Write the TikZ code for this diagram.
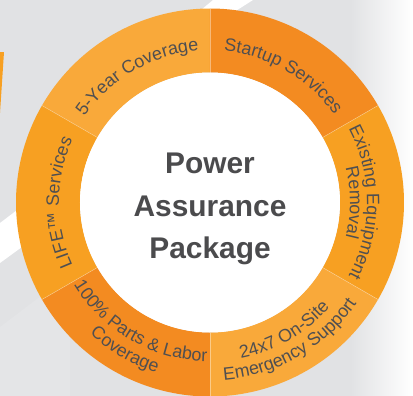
\documentclass[tikz,border=0pt]{standalone}
\usepackage{fontspec}
\setmainfont{Liberation Sans}
\usetikzlibrary{decorations.text}
\definecolor{bggray}{HTML}{E1E2E4}
\definecolor{bglight}{HTML}{E4E5E7}
\definecolor{orlight}{HTML}{F9A93A}
\definecolor{ordark}{HTML}{F38B21}
\definecolor{ormid}{HTML}{F7A022}
\definecolor{txtgray}{HTML}{4F4F51}
\definecolor{ctrgray}{HTML}{4B4B4D}
\newcommand\ringfont{\fontsize{18}{18}\selectfont\color{txtgray}}
\begin{document}
\begin{tikzpicture}[x=1bp,y=1bp,
        ringtext/.style={decorate,decoration={text along path,text align=center,text={|\ringfont|#1}}},
        ctr/.style={anchor=base,inner sep=0pt,text=ctrgray,font=\fontsize{30}{30}\selectfont\bfseries}]
        \useasboundingbox (-210,-193.5) rectangle (203,202.5);
        \begin{scope}[shift={(-210,202.5)},yscale=-1]
        \fill[bggray] (0,0) rectangle (413,396);
        \shade[left color=bggray,right color=white] (350,0) rectangle (413,396);
        \fill[white] (213,0)--(253,0)--(190,40)--(165,40)--cycle;
        \fill[white] (0,223)--(100,147)--(100,190)--(0,263)--cycle;
        \fill[bglight] (0,327)--(70,274)--(70,396)--(0,396)--cycle;
        \fill[ormid] (0,52)--(4,52)--(0,113)--cycle;
        \end{scope}
        \foreach \a/\c in {90/orlight,30/ordark,-30/ormid,-90/orlight,-150/ordark,150/ormid}
        \fill[\c] (\a:194) arc[start angle=\a,end angle=\a+60,radius=194]--({\a+60}:130) arc[start angle=\a+60,end angle=\a,radius=130]--cycle;
        \foreach \a in {30,90,...,330}
        \draw[white,opacity=.4,line width=.5pt] (\a:130)--(\a:194);
        \fill[white] (0,0) circle[radius=130];
        \path[ringtext={5-Year Coverage}] (160:152) arc[start angle=160,end angle=80,radius=152];
        \path[ringtext={Startup Services}] (100:152) arc[start angle=100,end angle=20,radius=152];
        \path[ringtext={Existing Equipment}] (40:157) arc[start angle=40,end angle=-40,radius=157];
        \path[ringtext={Removal}] (40:140) arc[start angle=40,end angle=-40,radius=140];
        \path[ringtext={24x7 On-Site}] (260:159) arc[start angle=260,end angle=340,radius=159];
        \path[ringtext={Emergency Support}] (260:178) arc[start angle=260,end angle=340,radius=178];
        \path[ringtext={100{\%} Parts {\&} Labor}] (200:159) arc[start angle=200,end angle=280,radius=159];
        \path[ringtext={Coverage}] (200:178) arc[start angle=200,end angle=280,radius=178];
        \path[ringtext={LIFE™ Services}] (220:151) arc[start angle=220,end angle=140,radius=151];
        \node[ctr] (pw) at (0,29.5) {Power};
        \node[ctr] (as) at (0,-14) {Assurance};
        \node[ctr] (pk) at (0,-56) {Package};
        \end{tikzpicture}
\end{document}
